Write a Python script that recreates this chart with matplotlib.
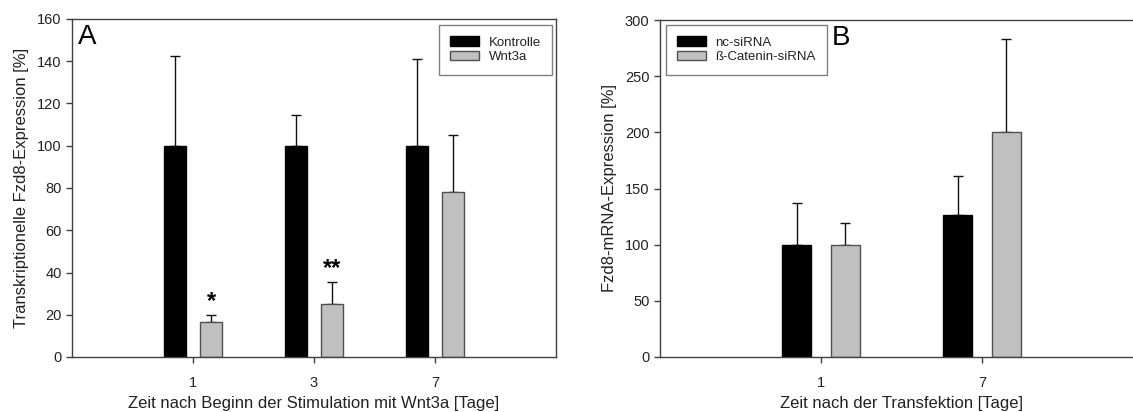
import numpy as np
import matplotlib
matplotlib.use("Agg")
import matplotlib.pyplot as plt

plt.rcParams['font.family'] = ['Liberation Sans', 'DejaVu Sans']

# Panel A data
days_a = ['1', '3', '7']
kontrolle = [100, 100, 100]
kontrolle_err = [42.5, 14.5, 41]
wnt3a = [16.5, 25, 78]
wnt3a_err = [3.3, 10.3, 27]
stars_a = ['*', '**', '']

# Panel B data
days_b = ['1', '7']
nc_sirna = [100, 126]
nc_sirna_err = [37, 35.5]
bcat_sirna = [100, 200]
bcat_sirna_err = [19.5, 83.5]

black = '#000000'
grey = '#c0c0c0'
edge_grey = '#505050'
spine_col = '#404040'
txt_col = '#222222'

fig = plt.figure(figsize=(11.33, 4.12), dpi=100)
W, H = 1133, 412


def px_axes(left, top, right, bottom):
    return fig.add_axes([left / W, 1 - bottom / H, (right - left) / W, (bottom - top) / H])


def style(ax):
    for s in ax.spines.values():
        s.set_color(spine_col)
        s.set_linewidth(1.0)
    ax.tick_params(direction='out', length=4, width=1, color=spine_col,
                   labelsize=10.5, labelcolor=txt_col, top=False, right=False)
    ax.tick_params(axis='x', pad=10)


def bars(ax, x, vals, errs, color, edge, width=0.18):
    ax.bar(x, vals, width=width, color=color, edgecolor=edge, linewidth=1.0, zorder=2)
    ax.errorbar(x, vals, yerr=[np.zeros(len(errs)), errs], fmt='none',
                ecolor='#111111', elinewidth=1.0, capsize=3.5, capthick=1.0, zorder=1)


def legend(ax, labels, **kw):
    handles = [plt.Rectangle((0, 0), 1, 1, facecolor=black, edgecolor=black),
               plt.Rectangle((0, 0), 1, 1, facecolor=grey, edgecolor=edge_grey)]
    leg = ax.legend(handles, labels, fontsize=9.5, frameon=True, fancybox=False,
                    edgecolor='#606060', handlelength=2.2, handleheight=0.7,
                    handletextpad=0.7, borderpad=0.85, labelspacing=0.2,
                    borderaxespad=0, **kw)
    leg.get_frame().set_linewidth(1.0)
    for t in leg.get_texts():
        t.set_color(txt_col)


# Panel A
axA = px_axes(72, 19, 556, 357)
xa = np.arange(len(days_a))
bars(axA, xa - 0.15, kontrolle, kontrolle_err, black, black)
bars(axA, xa + 0.15, wnt3a, wnt3a_err, grey, edge_grey)
for xi, v, e, s in zip(xa + 0.15, wnt3a, wnt3a_err, stars_a):
    if s:
        axA.text(xi, v + e + 1, s, ha='center', va='bottom', fontsize=17, fontweight='bold')
axA.set_xlim(-1, 3)
axA.set_ylim(0, 160)
axA.set_xticks(xa)
axA.set_xticklabels(days_a)
axA.set_yticks(np.arange(0, 161, 20))
style(axA)
axA.set_ylabel('Transkriptionelle Fzd8-Expression [%]', fontsize=12, color=txt_col, labelpad=6)
axA.set_xlabel('Zeit nach Beginn der Stimulation mit Wnt3a [Tage]', fontsize=12, color=txt_col, labelpad=4)
axA.text(0.013, 0.985, 'A', transform=axA.transAxes, ha='left', va='top', fontsize=20)
legend(axA, ['Kontrolle', 'Wnt3a'], loc='upper right', bbox_to_anchor=(0.992, 0.982))

# Panel B
axB = px_axes(660, 20, 1143, 357)
xb = np.arange(len(days_b))
bars(axB, xb - 0.15, nc_sirna, nc_sirna_err, black, black)
bars(axB, xb + 0.15, bcat_sirna, bcat_sirna_err, grey, edge_grey)
axB.set_xlim(-1, 2)
axB.set_ylim(0, 300)
axB.set_xticks(xb)
axB.set_xticklabels(days_b)
axB.set_yticks(np.arange(0, 301, 50))
style(axB)
axB.set_ylabel('Fzd8-mRNA-Expression [%]', fontsize=12, color=txt_col, labelpad=6)
axB.set_xlabel('Zeit nach der Transfektion [Tage]', fontsize=12, color=txt_col, labelpad=4)
axB.text(0.355, 0.985, 'B', transform=axB.transAxes, ha='left', va='top', fontsize=20)
legend(axB, ['nc-siRNA', 'ß-Catenin-siRNA'], loc='upper left', bbox_to_anchor=(0.012, 0.985))

fig.savefig('out.png', dpi=100)
